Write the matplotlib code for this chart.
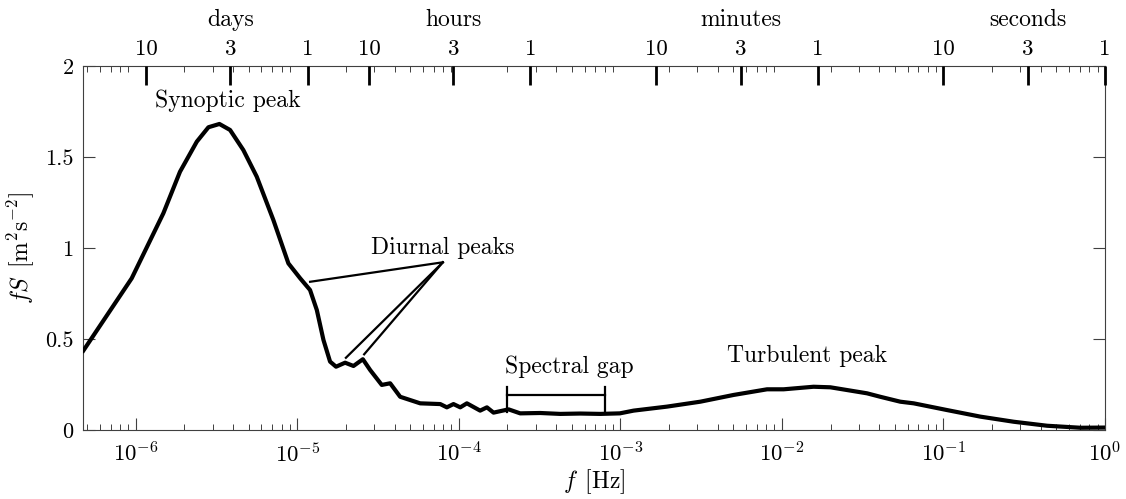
import numpy as np
import matplotlib
matplotlib.use('Agg')
import matplotlib.pyplot as plt
from matplotlib.ticker import LogLocator, NullFormatter, FixedLocator, FixedFormatter
import matplotlib.transforms as mtransforms

plt.rcParams['font.family'] = 'serif'
plt.rcParams['font.serif'] = ['cmr10']
plt.rcParams['mathtext.fontset'] = 'cm'
plt.rcParams['axes.unicode_minus'] = False
plt.rcParams['axes.formatter.use_mathtext'] = True

# ---- data ----
log_f = [-6.3245, -6.025, -5.829, -5.726, -5.622, -5.550, -5.482, -5.416, -5.334,
         -5.251, -5.148, -5.055, -4.982, -4.921, -4.879, -4.838, -4.797, -4.760,
         -4.704, -4.652, -4.594, -4.549, -4.477, -4.425, -4.363, -4.301, -4.239,
         -4.115, -4.074, -4.033, -3.991, -3.950, -3.868, -3.826, -3.785, -3.692,
         -3.620, -3.496, -3.372, -3.248, -3.124, -3.003, -2.918, -2.711, -2.505,
         -2.299, -2.092, -1.989, -1.804, -1.700, -1.473, -1.391, -1.267, -1.184,
         -0.977, -0.771, -0.565, -0.358, -0.152, 0.0]
fS = [0.438, 0.835, 1.192, 1.420, 1.585, 1.664, 1.682, 1.649, 1.539,
      1.393, 1.155, 0.917, 0.835, 0.771, 0.661, 0.497, 0.378, 0.350,
      0.372, 0.354, 0.391, 0.332, 0.250, 0.259, 0.185, 0.167, 0.149,
      0.145, 0.127, 0.145, 0.127, 0.149, 0.109, 0.127, 0.098, 0.116,
      0.094, 0.096, 0.091, 0.093, 0.091, 0.094, 0.109, 0.131, 0.158,
      0.195, 0.226, 0.226, 0.240, 0.237, 0.204, 0.185, 0.158, 0.149,
      0.112, 0.076, 0.048, 0.026, 0.015, 0.016]
freq = 10.0 ** np.array(log_f)

decades = [1e-6, 1e-5, 1e-4, 1e-3, 1e-2, 1e-1, 1e0]
decade_labels = [r'$10^{-6}$', r'$10^{-5}$', r'$10^{-4}$', r'$10^{-3}$',
                 r'$10^{-2}$', r'$10^{-1}$', r'$10^{0}$']

period_seconds = [864000, 259200, 86400, 36000, 10800, 3600, 600, 180, 60, 10, 3, 1]
period_labels = ['10', '3', '1', '10', '3', '1', '10', '3', '1', '10', '3', '1']
group_names = ['days', 'hours', 'minutes', 'seconds']
group_centers_s = [259200, 10800, 180, 3]

y_ticks = [0, 0.5, 1, 1.5, 2]
y_ticklabels = ['0', '0.5', '1', '1.5', '2']

gap_range = [2e-4, 8e-4]

# ---- figure ----
fig = plt.figure(figsize=(11.26, 4.99), dpi=100)
ax = fig.add_axes([0.074, 0.1373, 0.9073, 0.7304])
xlim = (10 ** -6.3245, 1.0)

ax.plot(freq, fS, color='black', lw=3.0, solid_joinstyle='round', zorder=3)
ax.set_xscale('log')
ax.set_xlim(*xlim)
ax.set_ylim(0, 2)

axc = '0.25'
for s in ax.spines.values():
    s.set_color(axc)
    s.set_linewidth(0.8)

ax.xaxis.set_major_locator(FixedLocator(decades))
ax.xaxis.set_major_formatter(FixedFormatter(decade_labels))
ax.xaxis.set_minor_locator(LogLocator(base=10, subs=np.arange(2, 10), numticks=50))
ax.xaxis.set_minor_formatter(NullFormatter())
ax.yaxis.set_major_locator(FixedLocator(y_ticks))
ax.yaxis.set_major_formatter(FixedFormatter(y_ticklabels))
ax.tick_params(axis='x', which='major', direction='in', length=8.5, width=0.8,
               color=axc, labelsize=16.5, pad=8, top=False)
ax.tick_params(axis='x', which='minor', direction='in', length=4.3, width=0.7,
               color=axc, top=False)
ax.tick_params(axis='y', which='major', direction='in', length=8.5, width=0.8,
               color=axc, labelsize=16, pad=7, left=True, right=True)

ax.set_xlabel(r'$f\ \,[\mathrm{Hz}]$', fontsize=17, labelpad=1)
ax.set_ylabel(r'$fS\ \,[\mathrm{m^2s^{-2}}]$', fontsize=17, labelpad=6)

# top axis with periods
ax2 = ax.twiny()
ax2.set_xscale('log')
ax2.set_xlim(*xlim)
ax2.xaxis.set_major_locator(FixedLocator([1.0 / p for p in period_seconds]))
ax2.xaxis.set_major_formatter(FixedFormatter(period_labels))
ax2.xaxis.set_minor_locator(LogLocator(base=10, subs=np.arange(2, 10), numticks=50))
ax2.xaxis.set_minor_formatter(NullFormatter())
ax2.tick_params(axis='x', which='major', direction='in', length=14, width=2.0,
                color='black', labelsize=16.5, pad=5)
ax2.tick_params(axis='x', which='minor', direction='in', length=4.3, width=0.7,
                color=axc)
for s in ax2.spines.values():
    s.set_visible(False)

trans = mtransforms.blended_transform_factory(ax.transData, ax.transAxes)
for name, p in zip(group_names, group_centers_s):
    ax.text(1.0 / p, 1.126, name, transform=trans, ha='center', va='center',
            fontsize=17)

# annotations
ax.text(10 ** -5.428, 1.81, 'Synoptic peak', ha='center', va='center', fontsize=17)
ax.text(10 ** -4.097, 1.00, 'Diurnal peaks', ha='center', va='center', fontsize=17)
ax.text(10 ** -3.3166, 0.348, 'Spectral gap', ha='center', va='center', fontsize=17)
ax.text(10 ** -1.8426, 0.409, 'Turbulent peak', ha='center', va='center', fontsize=17)

hub = (10 ** -4.0987, 0.923)
for (lx, ly) in [(-4.9205, 0.816), (-4.699, 0.399), (-4.586, 0.418)]:
    ax.plot([hub[0], 10 ** lx], [hub[1], ly], color='black', lw=1.6, zorder=4)

ax.plot(gap_range, [0.195, 0.195], color='black', lw=1.6)
for gx in gap_range:
    ax.plot([gx, gx], [0.103, 0.240], color='black', lw=1.6)

fig.savefig('out.png', dpi=100)
